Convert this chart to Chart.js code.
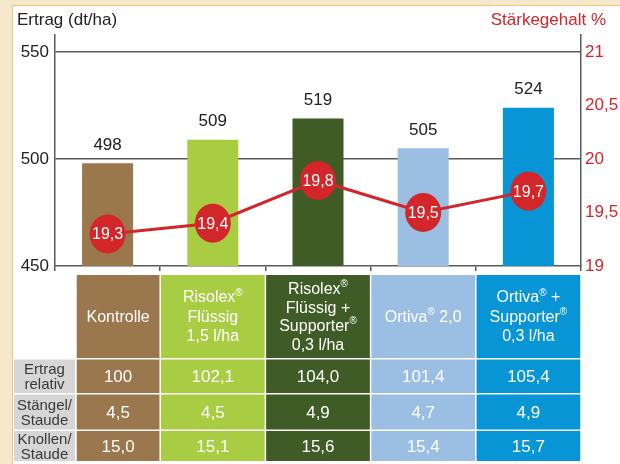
<!DOCTYPE html>
<html>
<head>
<meta charset="utf-8">
<script src="https://cdn.jsdelivr.net/npm/chart.js@4"></script>
<style>
  html, body { margin: 0; padding: 0; background: #f6e8cc; }
  #panel { position: absolute; left: 12px; top: 5px; width: 608px; height: 459px; background: #fff;
           border-left: 1.5px solid #efc67c; border-top: 1.5px solid #efc67c; box-sizing: border-box; }
  #wrap { position: absolute; left: 0; top: 0; width: 620px; height: 464px; }
</style>
</head>
<body>
<div id="panel"></div>
<div id="wrap"><canvas id="chart" width="620" height="464"></canvas></div>
<script>
// data
var categories = ["Kontrolle", "Risolex Flüssig 1,5 l/ha", "Risolex Flüssig + Supporter 0,3 l/ha", "Ortiva 2,0", "Ortiva + Supporter 0,3 l/ha"];
var headerLines = [
  ["Kontrolle"],
  ["Risolex®", "Flüssig", "1,5 l/ha"],
  ["Risolex®", "Flüssig +", "Supporter®", "0,3 l/ha"],
  ["Ortiva® 2,0"],
  ["Ortiva® +", "Supporter®", "0,3 l/ha"]
];
var ertrag = [498, 509, 519, 505, 524];
var staerke = [19.3, 19.4, 19.8, 19.5, 19.7];
var ertragRelativ = ["100", "102,1", "104,0", "101,4", "105,4"];
var staengel = ["4,5", "4,5", "4,9", "4,7", "4,9"];
var knollen = ["15,0", "15,1", "15,6", "15,4", "15,7"];
var rowLabels = [["Ertrag", "relativ"], ["Stängel/", "Staude"], ["Knollen/", "Staude"]];
var leftTicks = [450, 500, 550];
var rightTicks = [19, 19.5, 20, 20.5, 21];
var colors = ["#9b774e", "#a8cd43", "#3f5c27", "#9bbfe3", "#0895d6"];

var FONT = '"Liberation Sans", Arial, sans-serif';
var RED = "#d3262b";
var AXIS = "#5a5a5a";

function comma(v) { return String(v).replace(".", ","); }

// text with raised ® signs, centred on cx
function drawRich(ctx, s, cx, cy, size) {
  var parts = s.split("®");
  var small = Math.round(size * 0.6);
  var total = 0;
  parts.forEach(function (p, i) {
    ctx.font = size + "px " + FONT;
    total += ctx.measureText(p).width;
    if (i < parts.length - 1) {
      ctx.font = small + "px " + FONT;
      total += ctx.measureText("®").width;
    }
  });
  var x = cx - total / 2;
  ctx.textAlign = "left";
  ctx.textBaseline = "middle";
  parts.forEach(function (p, i) {
    ctx.font = size + "px " + FONT;
    ctx.fillText(p, x, cy);
    x += ctx.measureText(p).width;
    if (i < parts.length - 1) {
      ctx.font = small + "px " + FONT;
      ctx.fillText("®", x, cy - size * 0.32);
      x += ctx.measureText("®").width;
    }
  });
}

var overlay = {
  id: "overlay",
  afterDatasetsDraw: function (chart) {
    var ctx = chart.ctx;
    ctx.save();
    // bar values
    var bars = chart.getDatasetMeta(1);
    ctx.fillStyle = "#222";
    ctx.font = "17px " + FONT;
    ctx.textAlign = "center";
    ctx.textBaseline = "middle";
    bars.data.forEach(function (b, i) {
      ctx.fillText(ertrag[i], b.x, b.y - 18);
    });
    // starch bubbles
    var pts = chart.getDatasetMeta(0);
    pts.data.forEach(function (p, i) {
      ctx.beginPath();
      ctx.ellipse(p.x, p.y, 18, 19.5, 0, 0, Math.PI * 2);
      ctx.fillStyle = RED;
      ctx.fill();
      ctx.fillStyle = "#fff";
      ctx.font = "16px " + FONT;
      ctx.textAlign = "center";
      ctx.fillText(comma(staerke[i]), p.x, p.y + 1);
    });
    ctx.restore();
  },
  afterDraw: function (chart) {
    var ctx = chart.ctx;
    ctx.save();
    // axis titles
    ctx.font = "17px " + FONT;
    ctx.textBaseline = "middle";
    ctx.fillStyle = "#222";
    ctx.textAlign = "left";
    ctx.fillText("Ertrag (dt/ha)", 17, 20);
    ctx.fillStyle = RED;
    ctx.textAlign = "right";
    ctx.fillText("Stärkegehalt %", 606, 20);

    // table below the chart, columns follow the category axis
    var xs = chart.scales.x;
    var w = (xs.right - xs.left) / categories.length;
    var cols = categories.map(function (c, i) { return [xs.left + i * w, xs.left + (i + 1) * w]; });
    cols[0][0] = 76;
    var rows = [[275, 358], [359.5, 393], [394.5, 429.5], [431, 461]];
    var values = [ertragRelativ, staengel, knollen];

    cols.forEach(function (c, i) {
      ctx.fillStyle = colors[i];
      rows.forEach(function (r) {
        ctx.fillRect(c[0] + 0.75, r[0], c[1] - c[0] - 1.5, r[1] - r[0]);
      });
      // header
      ctx.fillStyle = "#fff";
      var lines = headerLines[i];
      var mid = (rows[0][0] + rows[0][1]) / 2 + 1;
      var lh = lines.length > 3 ? 18.7 : 19.5;
      lines.forEach(function (t, k) {
        drawRich(ctx, t, (c[0] + c[1]) / 2, mid + (k - (lines.length - 1) / 2) * lh, 16);
      });
      // values
      ctx.font = "17px " + FONT;
      ctx.textAlign = "center";
      ctx.textBaseline = "middle";
      values.forEach(function (v, k) {
        var r = rows[k + 1];
        ctx.fillText(v[i], (c[0] + c[1]) / 2, (r[0] + r[1]) / 2 + 1);
      });
    });

    // row labels
    rowLabels.forEach(function (lbl, k) {
      var r = rows[k + 1];
      ctx.fillStyle = "#d6d6d6";
      ctx.fillRect(14, r[0], 61, r[1] - r[0]);
      ctx.fillStyle = "#3a3a3a";
      ctx.font = "15px " + FONT;
      ctx.textAlign = "center";
      ctx.textBaseline = "middle";
      var m = (r[0] + r[1]) / 2 + 1;
      ctx.fillText(lbl[0], 44.5, m - 7.5);
      ctx.fillText(lbl[1], 44.5, m + 7.5);
    });
    ctx.restore();
  }
};

var ctx = document.getElementById("chart").getContext("2d");
var chart = new Chart(ctx, {
  type: "bar",
  data: {
    labels: categories,
    datasets: [{
      type: "line",
      label: "Stärkegehalt %",
      data: staerke,
      yAxisID: "y2",
      borderColor: RED,
      borderWidth: 3,
      pointRadius: 0,
      tension: 0,
      order: 0
    }, {
      type: "bar",
      label: "Ertrag (dt/ha)",
      data: ertrag,
      yAxisID: "y",
      backgroundColor: colors,
      barPercentage: 0.485,
      categoryPercentage: 1,
      order: 1
    }]
  },
  options: {
    responsive: false,
    animation: false,
    devicePixelRatio: 1,
    layout: { padding: { top: 35, left: 0, right: 0, bottom: 0 } },
    plugins: { legend: { display: false }, tooltip: { enabled: false } },
    scales: {
      x: {
        grid: { offset: true, drawOnChartArea: false, drawTicks: true, tickLength: 5, color: AXIS, lineWidth: 1.5 },
        border: { color: AXIS, width: 1.5 },
        ticks: { display: false },
        afterFit: function (s) { s.height = 198; }
      },
      y: {
        position: "left",
        min: 450,
        max: 558,
        afterBuildTicks: function (s) { s.ticks = leftTicks.map(function (v) { return { value: v }; }); },
        grid: {
          drawTicks: false,
          lineWidth: 1.5,
          color: function (c) { return c.tick && c.tick.value === 450 ? "rgba(0,0,0,0)" : AXIS; }
        },
        border: { color: AXIS, width: 1.5 },
        ticks: { color: "#222", font: { size: 17, family: FONT }, padding: 6 },
        afterFit: function (s) { s.width = 55; }
      },
      y2: {
        position: "right",
        min: 19,
        max: 21.16,
        afterBuildTicks: function (s) { s.ticks = rightTicks.map(function (v) { return { value: v }; }); },
        grid: { drawOnChartArea: false, drawTicks: false },
        border: { color: AXIS, width: 1.5 },
        ticks: { color: RED, font: { size: 17, family: FONT }, padding: 4, callback: function (v) { return comma(v); } },
        afterFit: function (s) { s.width = 39; }
      }
    }
  },
  plugins: [overlay]
});
</script>
</body>
</html>
